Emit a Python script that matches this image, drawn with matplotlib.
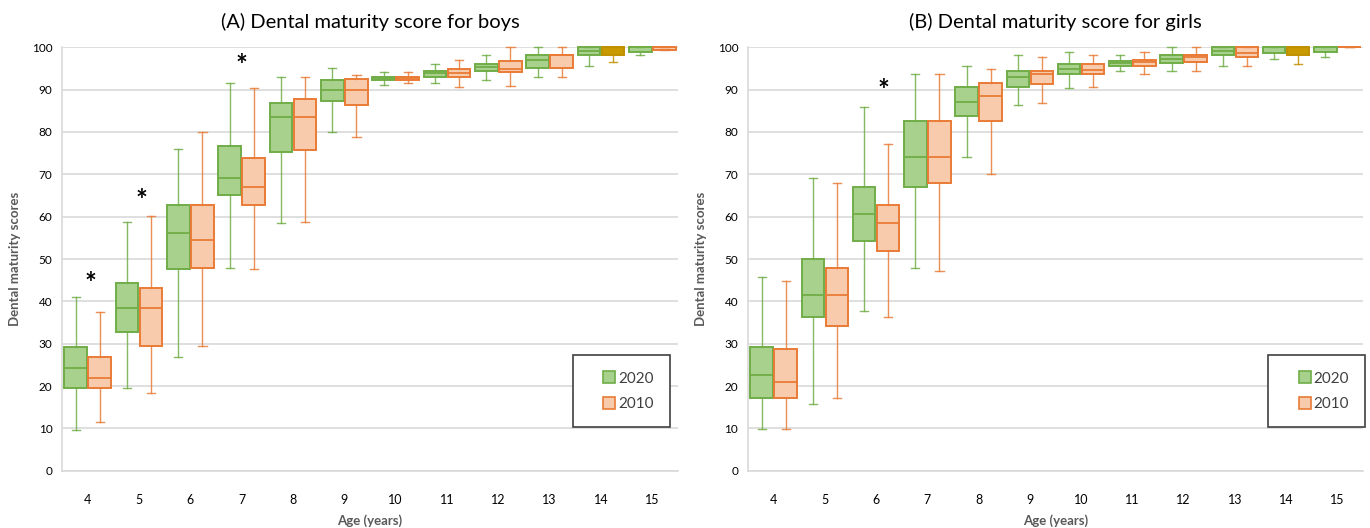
import matplotlib

matplotlib.use("Agg")

import matplotlib.pyplot as plt
from matplotlib.patches import Rectangle
from matplotlib.lines import Line2D

plt.rcParams["font.family"] = ["Lato", "DejaVu Sans"]

ages = [4, 5, 6, 7, 8, 9, 10, 11, 12, 13, 14, 15]

# boys, 2020
boys20_lo = [9.6, 19.5, 26.9, 47.8, 58.6, 80.0, 91.2, 91.5, 92.3, 93.0, 95.7, 98.2]
boys20_q1 = [19.5, 32.8, 47.6, 65.1, 75.3, 87.3, 92.2, 93.1, 94.4, 95.2, 98.1, 99.0]
boys20_med = [24.3, 38.5, 56.1, 69.2, 83.5, 90.0, 92.7, 93.9, 95.3, 97.0, 99.1, 100]
boys20_q3 = [29.3, 44.3, 62.8, 76.7, 86.8, 92.3, 93.1, 94.4, 96.1, 98.2, 100, 100]
boys20_hi = [41.1, 58.7, 76.0, 91.5, 93.0, 95.2, 94.1, 96.1, 98.2, 100, 100, 100]

# boys, 2010
boys10_lo = [11.6, 18.3, 29.5, 47.7, 58.7, 78.8, 91.5, 90.7, 90.9, 93.0, 96.5, 99.4]
boys10_q1 = [19.5, 29.5, 47.8, 62.8, 75.7, 86.4, 92.3, 93.1, 94.1, 95.2, 98.1, 99.4]
boys10_med = [21.8, 38.5, 54.6, 66.9, 83.6, 90.0, 92.8, 93.9, 94.9, 98.2, 100, 100]
boys10_q3 = [26.9, 43.2, 62.8, 73.9, 87.8, 92.4, 93.1, 94.9, 96.7, 98.2, 100, 100]
boys10_hi = [37.4, 60.2, 80.0, 90.4, 93.0, 93.5, 94.1, 96.9, 100, 100, 100, 100]

# girls, 2020
girls20_lo = [9.9, 15.8, 37.8, 47.8, 74.2, 86.3, 90.5, 94.4, 94.4, 95.6, 97.3, 97.8]
girls20_q1 = [17.2, 36.2, 54.3, 67.0, 83.7, 90.7, 93.7, 95.6, 96.4, 98.1, 98.6, 98.9]
girls20_med = [22.6, 41.5, 60.6, 74.2, 87.0, 92.9, 94.8, 96.2, 97.2, 99.1, 100, 100]
girls20_q3 = [29.3, 50.1, 67.0, 82.7, 90.6, 94.3, 96.0, 96.7, 98.1, 100, 100, 100]
girls20_hi = [45.7, 69.1, 85.8, 93.7, 95.7, 98.1, 98.9, 98.1, 100, 100, 100, 100]

# girls, 2010
girls10_lo = [9.9, 17.1, 36.4, 47.2, 70.0, 86.9, 90.7, 93.8, 94.4, 95.5, 96.1, 100]
girls10_q1 = [17.1, 34.2, 51.9, 67.9, 82.7, 91.3, 93.7, 95.7, 96.5, 97.8, 98.1, 100]
girls10_med = [20.9, 41.5, 58.5, 74.2, 88.4, 93.8, 94.6, 96.5, 97.7, 98.6, 100, 100]
girls10_q3 = [28.8, 47.8, 62.8, 82.7, 91.5, 94.3, 96.0, 97.1, 98.1, 100, 100, 100]
girls10_hi = [44.8, 67.9, 77.2, 93.7, 94.9, 97.8, 98.1, 98.9, 100, 100, 100, 100]

# significance marks (age, y)
boys_star_ages = [4.05, 5.05, 7.0]
boys_star_y = [45.5, 65.0, 97.0]
girls_star_ages = [6.15]
girls_star_y = [90.9]

GREEN_FILL, GREEN_EDGE = "#A9D18E", "#70AD47"
ORANGE_FILL, ORANGE_EDGE = "#F8CBAD", "#E97B36"
GOLD_FILL, GOLD_EDGE = "#C99A00", "#BF9000"
GRID = "#D9D9D9"
LABEL = "#595959"


def make_stats(lo, q1, med, q3, hi):
    return [dict(whislo=a, q1=b, med=c, q3=d, whishi=e, fliers=[])
            for a, b, c, d, e in zip(lo, q1, med, q3, hi)]


def draw_group(ax, stats, offset, fill, edge, gold_idx=()):
    pos = [a + offset for a in ages]
    bp = ax.bxp(stats, positions=pos, widths=0.44, patch_artist=True,
                showfliers=False, capwidths=0.16, manage_ticks=False)
    for i, box in enumerate(bp["boxes"]):
        f, e = (GOLD_FILL, GOLD_EDGE) if i in gold_idx else (fill, edge)
        box.set(facecolor=f, edgecolor=e, linewidth=1.4, clip_on=False)
        bp["medians"][i].set(color=e, linewidth=1.3, clip_on=False)
        for ln in bp["whiskers"][2 * i:2 * i + 2] + bp["caps"][2 * i:2 * i + 2]:
            ln.set(color=e, linewidth=1.0, clip_on=False, alpha=0.85)


def panel(ax, title, s20, s10, star_x, star_y):
    ax.set_axisbelow(True)
    draw_group(ax, s20, -0.235, GREEN_FILL, GREEN_EDGE)
    draw_group(ax, s10, 0.235, ORANGE_FILL, ORANGE_EDGE, gold_idx=(10,))
    for x, y in zip(star_x, star_y):
        ax.annotate("*", (x, y), xytext=(0, -4), textcoords="offset points",
                    ha="center", va="center", fontsize=20,
                    fontweight="bold", color="black")

    ax.set_xlim(3.5, 15.5)
    ax.set_ylim(0, 100)
    ax.set_yticks(range(0, 101, 10))
    ax.set_xticks(ages)
    ax.yaxis.grid(True, color=GRID, linewidth=1.2)
    ax.tick_params(axis="both", length=0, colors="black", labelsize=8.5)
    ax.tick_params(axis="x", pad=17, labelsize=9)
    ax.tick_params(axis="y", pad=7)
    for side in ("top", "right"):
        ax.spines[side].set_visible(False)
    for side in ("left", "bottom"):
        ax.spines[side].set_color(GRID)
        ax.spines[side].set_linewidth(1.2)

    ax.set_title(title, fontsize=14.5, pad=14)
    ax.set_xlabel("Age (years)", fontsize=9.5, fontweight="bold",
                  color=LABEL, labelpad=6)
    ax.set_ylabel("Dental maturity scores", fontsize=9.5, fontweight="bold",
                  color=LABEL, labelpad=8)

    handles = [
        Line2D([], [], marker="s", linestyle="none", markersize=9,
               markerfacecolor=GREEN_FILL, markeredgecolor=GREEN_EDGE,
               markeredgewidth=1.2, label="2020"),
        Line2D([], [], marker="s", linestyle="none", markersize=9,
               markerfacecolor=ORANGE_FILL, markeredgecolor=ORANGE_EDGE,
               markeredgewidth=1.2, label="2010"),
    ]
    return handles


fig = plt.figure(figsize=(13.7, 5.28), dpi=100)
ax1 = fig.add_axes([0.0453, 0.1085, 0.4496, 0.8019])
ax2 = fig.add_axes([0.5460, 0.1085, 0.4489, 0.8019])

h = panel(ax1, "(A) Dental maturity score for boys",
          make_stats(boys20_lo, boys20_q1, boys20_med, boys20_q3, boys20_hi),
          make_stats(boys10_lo, boys10_q1, boys10_med, boys10_q3, boys10_hi),
          boys_star_ages, boys_star_y)
panel(ax2, "(B) Dental maturity score for girls",
      make_stats(girls20_lo, girls20_q1, girls20_med, girls20_q3, girls20_hi),
      make_stats(girls10_lo, girls10_q1, girls10_med, girls10_q3, girls10_hi),
      girls_star_ages, girls_star_y)

for ax, x0 in ((ax1, 0.829), (ax2, 0.846)):
    frame = Rectangle((x0, 0.1025), 0.158, 0.1705, transform=ax.transAxes,
                      fill=True, facecolor="white", edgecolor="#404040",
                      linewidth=1.2, clip_on=False, zorder=5)
    ax.add_patch(frame)
    leg = ax.legend(handles=h, loc="center", frameon=False,
                    bbox_to_anchor=(x0 + 0.079 + 0.01, 0.1025 + 0.085),
                    fontsize=11, handletextpad=0.1, labelspacing=0.75,
                    handlelength=1.0, borderaxespad=0)
    leg.set_zorder(6)
    for t in leg.get_texts():
        t.set_color("#404040")

fig.savefig("out.png", dpi=100)
